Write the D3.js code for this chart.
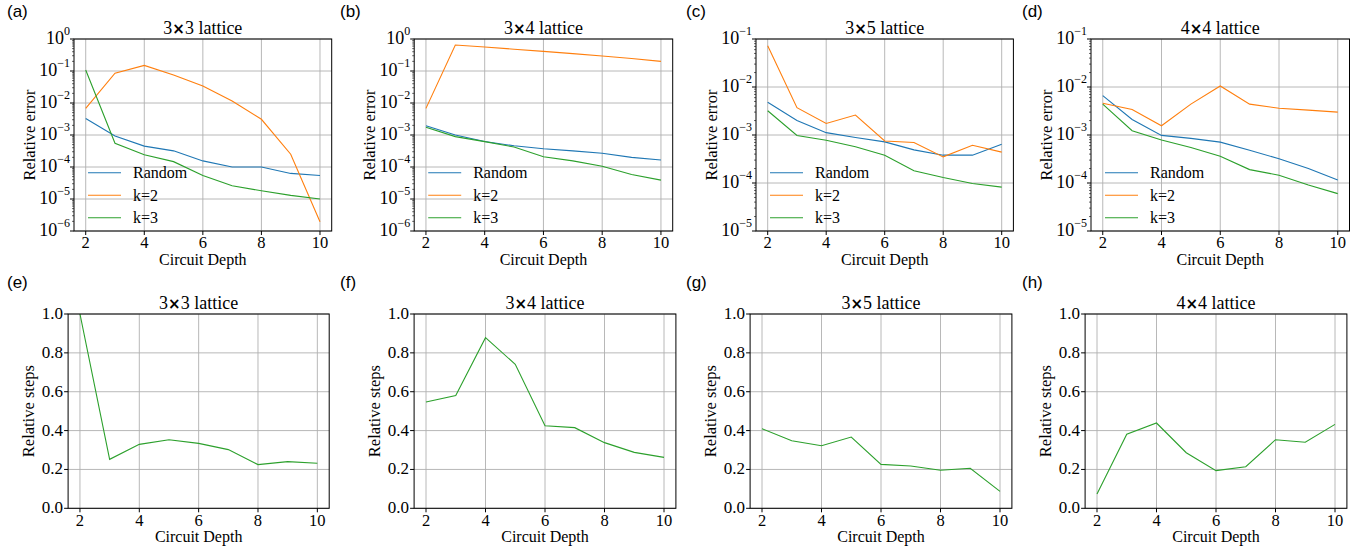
<!DOCTYPE html>
<html>
<head>
<meta charset="utf-8">
<script src="https://cdn.jsdelivr.net/npm/d3@7"></script>
<style>
  body { margin: 0; background: #fff; }
  svg text { fill: #000; }
</style>
</head>
<body>
<div class="data_figure"></div>
<script>
// ---- data ----
const depths = [2, 3, 4, 5, 6, 7, 8, 9, 10];
const xTicks = [2, 4, 6, 8, 10];
const latticeSizes = [["3", "3"], ["3", "4"], ["3", "5"], ["4", "4"]];
const seriesNames = ["Random", "k=2", "k=3"];

// relative error (log scale), one array per lattice
const errRandom = [
    [3.3e-3, 9.3e-4, 4.5e-4, 3.2e-4, 1.55e-4, 1.0e-4, 1.0e-4, 6.3e-5, 5.4e-5],
    [1.95e-3, 1.0e-3, 6.3e-4, 4.6e-4, 3.7e-4, 3.2e-4, 2.7e-4, 2.0e-4, 1.66e-4],
    [4.8e-3, 2.0e-3, 1.12e-3, 8.9e-4, 7.2e-4, 4.9e-4, 3.8e-4, 3.8e-4, 6.4e-4],
    [6.6e-3, 2.1e-3, 9.8e-4, 8.5e-4, 7.1e-4, 4.8e-4, 3.2e-4, 2.0e-4, 1.15e-4]
];
const errK2 = [
    [6.8e-3, 8.5e-2, 0.15, 7.5e-2, 3.4e-2, 1.15e-2, 3.1e-3, 2.5e-4, 1.95e-6],
    [6.8e-3, 0.65, 0.56, 0.48, 0.41, 0.35, 0.295, 0.245, 0.2],
    [7.2e-2, 3.7e-3, 1.74e-3, 2.6e-3, 7.5e-4, 7.0e-4, 3.5e-4, 6.1e-4, 4.4e-4],
    [4.6e-3, 3.4e-3, 1.56e-3, 4.4e-3, 1.05e-2, 4.4e-3, 3.6e-3, 3.3e-3, 3.0e-3]
];
const errK3 = [
    [0.107, 5.5e-4, 2.4e-4, 1.47e-4, 5.4e-5, 2.6e-5, 1.8e-5, 1.3e-5, 1.0e-5],
    [1.74e-3, 8.9e-4, 6.2e-4, 4.2e-4, 2.1e-4, 1.55e-4, 1.05e-4, 5.8e-5, 3.9e-5],
    [3.2e-3, 9.8e-4, 7.8e-4, 5.7e-4, 3.8e-4, 1.8e-4, 1.3e-4, 9.8e-5, 8.2e-5],
    [4.4e-3, 1.23e-3, 7.9e-4, 5.5e-4, 3.6e-4, 1.9e-4, 1.45e-4, 9.1e-5, 6.0e-5]
];
// y range exponents for the error plots
const errExpRange = [[-6, 0], [-6, 0], [-5, -1], [-5, -1]];

// relative steps (linear)
const relSteps = [
    [1.0, 0.252, 0.329, 0.353, 0.334, 0.302, 0.225, 0.24, 0.232],
    [0.547, 0.58, 0.878, 0.741, 0.425, 0.415, 0.338, 0.288, 0.262],
    [0.41, 0.348, 0.322, 0.367, 0.226, 0.218, 0.196, 0.206, 0.087],
    [0.074, 0.381, 0.439, 0.286, 0.194, 0.214, 0.353, 0.34, 0.432]
];
const stepTicks = [0.0, 0.2, 0.4, 0.6, 0.8, 1.0];
const topLabels = ["(a)", "(b)", "(c)", "(d)"];
const bottomLabels = ["(e)", "(f)", "(g)", "(h)"];

// ---- layout ----
const widthMax = 1371, heightMax = 550;
const topX = [[74, 331.7], [414.2, 672.7], [756, 1013.4], [1091, 1349.5]];
const botX = [[68.1, 329.2], [414.1, 675.9], [750.1, 1011.9], [1085.1, 1346.9]];
const topY = [39, 231];
const botY = [314, 508.3];
const labelX = [7, 340, 686, 1022];
const colors = ["#1f77b4", "#ff7f0e", "#2ca02c"];
const serif = "'Liberation Serif', 'Times New Roman', serif";
const sans = "'Liberation Sans', Arial, sans-serif";
const fs = 16;
const gridColor = "#b0b0b0";

const svg = d3.select(".data_figure")
    .append("svg")
    .attr("width", widthMax)
    .attr("height", heightMax);

let clipId = 0;

function drawPanel(xr, yr, opts) {
    const g = svg.append("g");
    const x = d3.scaleLinear().domain([1.6, 10.4]).range(xr);
    const y = opts.log
        ? d3.scaleLog().domain([Math.pow(10, opts.exp[0]), Math.pow(10, opts.exp[1])]).range([yr[1], yr[0]])
        : d3.scaleLinear().domain([0, 1]).range([yr[1], yr[0]]);

    const yMajor = opts.log
        ? d3.range(opts.exp[0], opts.exp[1] + 1).map(e => Math.pow(10, e))
        : stepTicks;

    // grid
    g.selectAll(".gx").data(xTicks).enter().append("line")
        .attr("x1", d => x(d)).attr("x2", d => x(d))
        .attr("y1", yr[0]).attr("y2", yr[1])
        .attr("stroke", gridColor).attr("stroke-width", 0.9);
    g.selectAll(".gy").data(yMajor).enter().append("line")
        .attr("x1", xr[0]).attr("x2", xr[1])
        .attr("y1", d => y(d)).attr("y2", d => y(d))
        .attr("stroke", gridColor).attr("stroke-width", 0.9);

    // lines, clipped to the axes
    const cid = "clip" + (clipId++);
    g.append("clipPath").attr("id", cid).append("rect")
        .attr("x", xr[0]).attr("y", yr[0])
        .attr("width", xr[1] - xr[0]).attr("height", yr[1] - yr[0]);
    const line = d3.line().x((d, i) => x(depths[i])).y(d => y(d));
    opts.series.forEach((s) => {
        g.append("path")
            .attr("d", line(s.values))
            .attr("fill", "none")
            .attr("stroke", s.color)
            .attr("stroke-width", 1.1)
            .attr("clip-path", "url(#" + cid + ")");
    });

    // frame
    g.append("rect")
        .attr("x", xr[0]).attr("y", yr[0])
        .attr("width", xr[1] - xr[0]).attr("height", yr[1] - yr[0])
        .attr("fill", "none").attr("stroke", "#000").attr("stroke-width", 1);

    // x ticks
    g.selectAll(".tx").data(xTicks).enter().append("line")
        .attr("x1", d => x(d)).attr("x2", d => x(d))
        .attr("y1", yr[1]).attr("y2", yr[1] + 4)
        .attr("stroke", "#000");
    g.selectAll(".lx").data(xTicks).enter().append("text")
        .attr("x", d => x(d)).attr("y", yr[1] + opts.tickDy)
        .attr("text-anchor", "middle")
        .style("font-family", serif).style("font-size", "16.5px")
        .text(d => d);

    // y ticks
    g.selectAll(".ty").data(yMajor).enter().append("line")
        .attr("x1", xr[0] - 4).attr("x2", xr[0])
        .attr("y1", d => y(d)).attr("y2", d => y(d))
        .attr("stroke", "#000");
    if (opts.log) {
        const minors = [];
        for (let e = opts.exp[0]; e < opts.exp[1]; e++) {
            for (let m = 2; m <= 9; m++) minors.push(m * Math.pow(10, e));
        }
        g.selectAll(".tm").data(minors).enter().append("line")
            .attr("x1", xr[0] - 2).attr("x2", xr[0])
            .attr("y1", d => y(d)).attr("y2", d => y(d))
            .attr("stroke", "#000").attr("stroke-width", 0.6);
        const lab = g.selectAll(".ly").data(yMajor).enter().append("text")
            .attr("x", xr[0] - 4).attr("y", d => y(d) + 5)
            .attr("text-anchor", "end")
            .style("font-family", serif).style("font-size", "18px");
        lab.append("tspan").text("10");
        lab.append("tspan")
            .attr("dy", -9)
            .style("font-size", "12px")
            .text(d => {
                const e = Math.round(Math.log10(d));
                return e < 0 ? "\u2212" + (-e) : "" + e;
            });
    } else {
        g.selectAll(".ly").data(yMajor).enter().append("text")
            .attr("x", xr[0] - 5).attr("y", d => y(d) + 5)
            .attr("text-anchor", "end")
            .style("font-family", serif).style("font-size", "17px")
            .text(d => d.toFixed(1));
    }

    // title and axis labels
    const t = g.append("text")
        .attr("x", (xr[0] + xr[1]) / 2).attr("y", yr[0] - 5)
        .attr("text-anchor", "middle")
        .style("font-family", serif).style("font-size", "18px");
    t.append("tspan").text(opts.size[0]);
    t.append("tspan")
        .style("font-family", "'DejaVu Sans', sans-serif")
        .style("font-weight", "bold")
        .style("font-size", "15px")
        .text("\u00d7");
    t.append("tspan").text(opts.size[1] + " lattice");

    g.append("text")
        .attr("x", (xr[0] + xr[1]) / 2).attr("y", yr[1] + opts.tickDy + 16.5)
        .attr("text-anchor", "middle")
        .style("font-family", serif).style("font-size", fs + "px")
        .text("Circuit Depth");
    g.append("text")
        .attr("transform", "translate(" + (xr[0] - opts.ylabDx) + "," + ((yr[0] + yr[1]) / 2) + ") rotate(-90)")
        .attr("text-anchor", "middle")
        .style("font-family", serif).style("font-size", "16.5px")
        .text(opts.ylabel);

    // legend
    if (opts.legend) {
        const lg = g.append("g")
            .attr("transform", "translate(" + (xr[0] + 14) + "," + (yr[0] + 133.7) + ")");
        opts.series.forEach((s, k) => {
            lg.append("line")
                .attr("x1", 0).attr("x2", 33)
                .attr("y1", k * 22.5).attr("y2", k * 22.5)
                .attr("stroke", s.color).attr("stroke-width", 1.1);
            lg.append("text")
                .attr("x", 45).attr("y", k * 22.5 + 5.5)
                .style("font-family", serif).style("font-size", fs + "px")
                .text(s.name);
        });
    }

    // panel letter
    svg.append("text")
        .attr("x", opts.labelX).attr("y", opts.labelY)
        .style("font-family", sans).style("font-size", "17px")
        .text(opts.label);
}

for (let i = 0; i < 4; i++) {
    const errData = [errRandom[i], errK2[i], errK3[i]];
    drawPanel(topX[i], topY, {
        log: true,
        exp: errExpRange[i],
        size: latticeSizes[i],
        ylabel: "Relative error",
        ylabDx: 39,
        tickDy: 17,
        legend: true,
        series: errData.map((v, k) => ({ name: seriesNames[k], values: v, color: colors[k] })),
        label: topLabels[i],
        labelX: labelX[i],
        labelY: 17
    });
    drawPanel(botX[i], botY, {
        log: false,
        size: latticeSizes[i],
        ylabel: "Relative steps",
        ylabDx: 34,
        tickDy: 17.5,
        legend: false,
        series: [{ name: "steps", values: relSteps[i], color: colors[2] }],
        label: bottomLabels[i],
        labelX: labelX[i],
        labelY: 288
    });
}
</script>
</body>
</html>
